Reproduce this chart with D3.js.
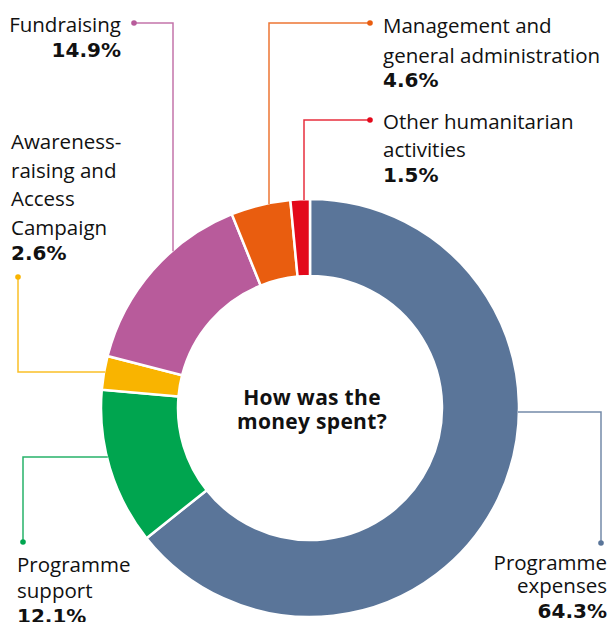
<!DOCTYPE html>
<html><head><meta charset="utf-8">
<script src="https://cdn.jsdelivr.net/npm/d3@7"></script>
<style>
html,body{margin:0;padding:0;background:#fff;}
svg{display:block;}
text{font-family:"Open Sans",sans-serif;}
</style></head>
<body>
<svg id="c" width="611" height="622"></svg>
<script>
const categories = ["Programme expenses","Programme support","Awareness-raising and Access Campaign","Fundraising","Management and general administration","Other humanitarian activities"];
const values = [64.3, 12.1, 2.6, 14.9, 4.6, 1.5];
const valueLabels = ["64.3%","12.1%","2.6%","14.9%","4.6%","1.5%"];
const labelLines = [["Programme","expenses"],["Programme","support"],["Awareness-","raising and","Access","Campaign"],["Fundraising"],["Management and","general administration"],["Other humanitarian","activities"]];
const colors = ["#5a7599","#00a54f","#f9b400","#b85b9b","#e95d0f","#e3091b"];
const centerTitle = ["How was the","money spent?"];

const svg = d3.select("#c");
const cx = 310, cy = 408, R = 209, r0 = 132;
const g = svg.append("g").attr("transform",`translate(${cx},${cy})`);
const pie = d3.pie().sort(null).value(d=>d)(values);
const arc = d3.arc().innerRadius(r0).outerRadius(R);
g.selectAll("path").data(pie).enter().append("path")
  .attr("d",arc).attr("fill",(d,i)=>colors[i])
  .attr("stroke","#fff").attr("stroke-width",2.5).attr("stroke-linejoin","miter");

// center title
g.append("text").attr("text-anchor","middle").attr("font-family","Inter, sans-serif")
  .attr("font-weight",700).attr("font-size",21).attr("letter-spacing",0.3).attr("fill","#111")
  .selectAll("tspan").data(centerTitle).enter().append("tspan")
  .attr("x",2).attr("y",(d,i)=>-3+i*23.5).text(d=>d);

const leaders = [
  {type:"h", y:412, x2:601, y2:543},
  {type:"h", y:457, x2:23, y2:542},
  {type:"h", y:372, x2:18, y2:277},
  {type:"v", x:173, y2:23, x2:134},
  {type:"v", x:269, y2:23, x2:370},
  {type:"v", x:304, y2:120, x2:370}
];
const lab = [
  {x:607, y:570, anchor:"end", lh:[23,25]},
  {x:17, y:572, anchor:"start", lh:[26,25]},
  {x:11, y:149, anchor:"start", lh:[28.7,24.5]},
  {x:121, y:32, anchor:"end", lh:[25,25]},
  {x:383, y:33, anchor:"start", lh:[29.5,24.5]},
  {x:383, y:129, anchor:"start", lh:[27.5,25]}
];
leaders.forEach((L,i)=>{
  let pts;
  if(L.type==="h"){
    const dx = Math.sqrt(R*R-(L.y-cy)*(L.y-cy));
    const sx = L.x2>cx ? cx+dx-1 : cx-dx+1;
    pts=[[sx,L.y],[L.x2,L.y],[L.x2,L.y2]];
  } else {
    const dy = Math.sqrt(R*R-(L.x-cx)*(L.x-cx));
    pts=[[L.x,cy-dy+1],[L.x,L.y2],[L.x2,L.y2]];
  }
  svg.append("path").attr("d",d3.line()(pts)).attr("fill","none")
    .attr("stroke",colors[i]).attr("stroke-opacity",0.85).attr("stroke-width",1.5);
  const e = pts[2];
  svg.append("circle").attr("cx",e[0]).attr("cy",e[1]).attr("r",2.8).attr("fill",colors[i]);
  const lb = lab[i];
  const t = svg.append("text").attr("text-anchor",lb.anchor).attr("fill","#111").attr("font-size",20.5);
  labelLines[i].forEach((s,k)=>{
    t.append("tspan").attr("x",lb.x).attr("y",lb.y+k*lb.lh[0]).text(s);
  });
  t.append("tspan").attr("x",lb.x).attr("y",lb.y+(labelLines[i].length-1)*lb.lh[0]+lb.lh[1])
    .attr("font-family","'DejaVu Sans', sans-serif").attr("font-weight",700).attr("font-size",20).text(valueLabels[i]);
});
</script>
</body></html>
